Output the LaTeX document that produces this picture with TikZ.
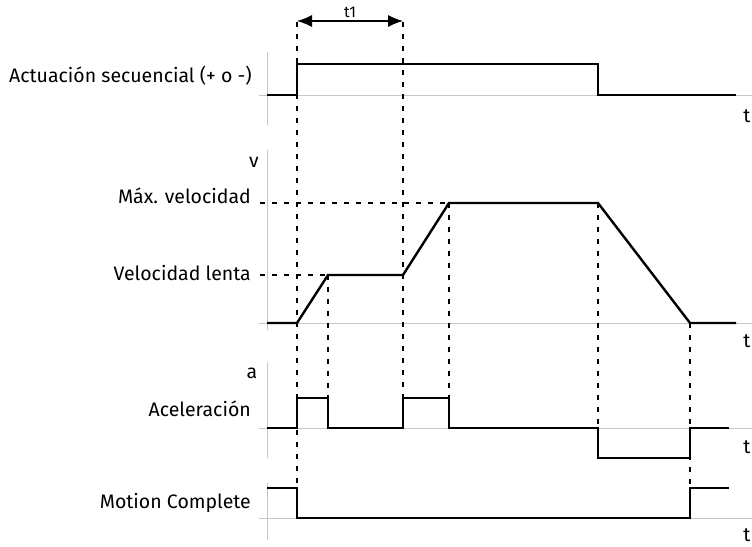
\documentclass[tikz,border=0pt]{standalone}
\usepackage{fontspec}
\setmainfont{Fira Sans}
\usetikzlibrary{arrows.meta}
\begin{document}
\begin{tikzpicture}[x=1pt,y=-1pt,
  sig/.style={line width=2.4pt, line join=miter},
  ax/.style={draw=black!22, line width=1pt},
  guide/.style={line width=1.1pt, dash pattern=on 5pt off 7pt},
  lab/.style={font=\fontsize{19.5}{22}\selectfont, anchor=base east, inner sep=0pt},
  tl/.style={font=\fontsize{19.5}{22}\selectfont, anchor=base, inner sep=0pt}]
\useasboundingbox (0,0) rectangle (752,546);

% axes
\draw[ax] (267,52) -- (267,125);  \draw[ax] (259,95) -- (752,95);
\draw[ax] (267,150) -- (267,330); \draw[ax] (259,323) -- (752,323);
\draw[ax] (267,362) -- (267,458); \draw[ax] (259,428) -- (752,428);
\draw[ax] (267,483) -- (267,540); \draw[ax] (259,518) -- (752,518);

% key coordinates
\coordinate (g1t) at (297,22);  \coordinate (g1b) at (297,488);
\coordinate (g2t) at (403,22);  \coordinate (g2b) at (403,398);
\coordinate (g3t) at (328,275); \coordinate (g3b) at (328,398);
\coordinate (g4t) at (449,203); \coordinate (g4b) at (449,398);
\coordinate (g5t) at (598,203); \coordinate (g5b) at (598,428);
\coordinate (g6t) at (690,323); \coordinate (g6b) at (690,488);
\coordinate (hmaxL) at (260,203);
\coordinate (hlowL) at (260,275);

% guides
\draw[guide] (g1t) -- (g1b);
\draw[guide] (g2t) -- (g2b);
\draw[guide] (g3t) -- (g3b);
\draw[guide] (g4t) -- (g4b);
\draw[guide] (g5t) -- (g5b);
\draw[guide] (g6t) -- (g6b);
\draw[guide] (hmaxL) -- (g4t);
\draw[guide] (hlowL) -- (g3t);

% t1 arrow
\coordinate (a1) at (297,21); \coordinate (a2) at (403,21);
\draw[line width=1.2pt, {Latex[length=15pt,width=12pt]}-{Latex[length=15pt,width=12pt]}] (a1) -- (a2);
\node[font=\fontsize{15.5}{18}\selectfont, anchor=base, inner sep=0pt] (t1) at (350,17) {t1};

% signals
\draw[sig] (267,95) -- (297,95) -- (297,64) -- (598,64) -- (598,95) -- (736,95);
\draw[sig] (267,323) -- (297,323) -- (328,275) -- (403,275) -- (449,203) -- (598,203) -- (690,323) -- (736,323);
\draw[sig] (267,428) -- (297,428) -- (297,398) -- (328,398) -- (328,428) -- (403,428) -- (403,398) -- (449,398) -- (449,428) -- (598,428) -- (598,458) -- (690,458) -- (690,428) -- (729,428);
\draw[sig] (267,488) -- (297,488) -- (297,518) -- (690,518) -- (690,488) -- (729,488);

% labels
\node[lab] (l1) at (252,82) {Actuación secuencial (+ o -)};
\node[tl] (lv) at (254,167) {v};
\node[lab] (l2) at (251,203) {Máx. velocidad};
\node[lab] (l3) at (251,280) {Velocidad lenta};
\node[tl] (la) at (252,378) {a};
\node[lab] (l4) at (251,416) {Aceleración};
\node[lab] (l5) at (251,508) {Motion Complete};
\node[tl] (tA) at (747,122) {t};
\node[tl] (tB) at (747,347) {t};
\node[tl] (tC) at (747,453) {t};
\node[tl] (tD) at (747,541.5) {t};
\end{tikzpicture}
\end{document}
